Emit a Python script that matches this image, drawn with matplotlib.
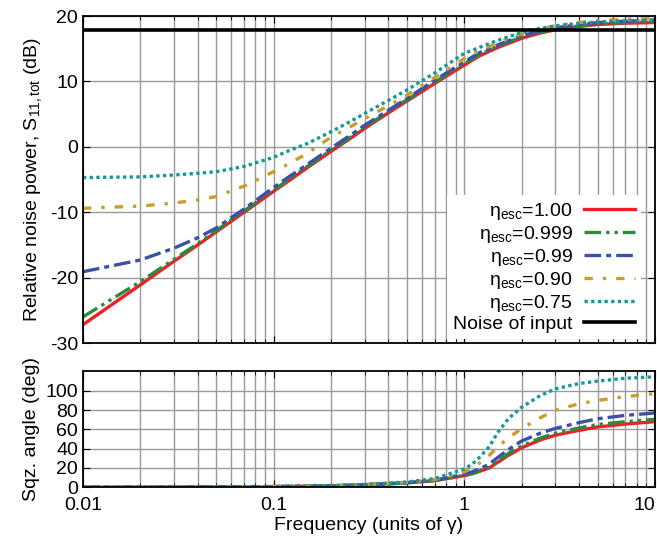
import matplotlib
matplotlib.use("Agg")
import matplotlib.pyplot as plt
from matplotlib.ticker import FixedLocator, LogLocator, NullFormatter

plt.rcParams['font.family'] = ['Liberation Sans', 'DejaVu Sans']
plt.rcParams['mathtext.fontset'] = 'custom'
plt.rcParams['mathtext.rm'] = 'Liberation Sans'
plt.rcParams['mathtext.it'] = 'Liberation Sans:italic'
plt.rcParams['axes.unicode_minus'] = False

# frequency points for the noise power panel (units of gamma)
freq_noise = [0.01, 0.02, 0.03, 0.04, 0.05, 0.07, 0.1, 0.12, 0.15, 0.2, 0.25, 0.3,
              0.4, 0.5, 0.7, 1, 1.2, 1.5, 2, 2.5, 3, 4, 5, 7, 10]
noise_100 = [-27.2, -21.1, -17.5, -15.0, -13.0, -10.0, -6.8, -5.2, -3.2, -0.7, 1.2, 2.8,
             5.2, 7.0, 9.7, 12.5, 13.9, 15.2, 16.6, 17.4, 17.9, 18.4, 18.7, 18.9, 19.0]
noise_0999 = [-26.0, -20.6, -17.2, -14.8, -12.8, -9.8, -6.6, -5.0, -3.0, -0.5, 1.4, 3.0,
              5.4, 7.2, 9.9, 12.7, 14.1, 15.4, 16.8, 17.5, 18.0, 18.5, 18.8, 19.0, 19.2]
noise_099 = [-19.1, -17.3, -15.5, -13.9, -12.4, -9.5, -6.2, -4.6, -2.7, -0.2, 1.7, 3.3,
             5.6, 7.4, 10.2, 13.0, 14.4, 15.6, 17.0, 17.7, 18.2, 18.7, 19.0, 19.2, 19.4]
noise_090 = [-9.4, -9.05, -8.6, -8.1, -7.6, -6.0, -3.8, -2.6, -1.0, 1.5, 3.0, 4.3,
             6.3, 7.9, 10.6, 13.5, 14.7, 15.9, 17.3, 18.0, 18.5, 19.0, 19.3, 19.5, 19.6]
noise_075 = [-4.7, -4.6, -4.3, -4.05, -3.8, -3.0, -1.6, -0.6, 0.5, 2.3, 3.8, 5.1,
             7.1, 8.7, 11.3, 14.3, 15.2, 16.3, 17.5, 18.1, 18.5, 18.9, 19.1, 19.3, 19.4]
noise_input = 17.9

# frequency points for the squeezing angle panel
freq_angle = [0.01, 0.03, 0.1, 0.2, 0.3, 0.5, 0.7, 1, 1.1, 1.2, 1.35, 1.5, 1.7,
              2, 2.5, 3, 4, 5, 7, 10]
angle_100 = [0, 0.1, 0.7, 1.5, 2.5, 4.5, 7, 12, 14, 16.5, 20, 26, 33,
             41, 49, 54, 59, 62.5, 65.5, 68]
angle_0999 = [0, 0.1, 0.7, 1.5, 2.5, 4.5, 7, 12.3, 14.5, 17, 21, 27, 35,
              43, 51, 56, 61.5, 65, 68, 70.5]
angle_099 = [0, 0.1, 0.7, 1.5, 2.6, 4.7, 7.3, 13.5, 16, 19, 24, 31, 39,
             48, 56, 61, 67, 71, 74.5, 77]
angle_090 = [0, 0.1, 0.7, 1.6, 2.8, 5, 8, 16, 20, 25, 33, 42, 51,
             61, 72, 80, 86.5, 90, 94, 97]
angle_075 = [0, 0.1, 0.7, 1.7, 3, 5.5, 9, 19, 24, 31, 42, 57, 71,
             83, 95, 102, 107.5, 110, 113, 114.5]

labels = ['η$_{\\mathrm{esc}}$=1.00', 'η$_{\\mathrm{esc}}$=0.999', 'η$_{\\mathrm{esc}}$=0.99',
          'η$_{\\mathrm{esc}}$=0.90', 'η$_{\\mathrm{esc}}$=0.75']
colors = ['#ee1f26', '#2b8a3e', '#3a52a6', '#c99d2e', '#13999a']
dashes = [None, (5, 1.5, 1, 1.5, 1, 1.5), (5, 1.5, 1.5, 1.5), (2.5, 3, 1, 3), (1, 1)]

noise = [noise_100, noise_0999, noise_099, noise_090, noise_075]
angle = [angle_100, angle_0999, angle_099, angle_090, angle_075]

fs = 14

fig = plt.figure(figsize=(6.57, 5.45), dpi=100)
ax1 = fig.add_axes([0.1263, 0.3706, 0.8707, 0.6000])
ax2 = fig.add_axes([0.1263, 0.1059, 0.8707, 0.2125])

for i in range(5):
    kw = dict(color=colors[i], lw=2.4, label=labels[i])
    if dashes[i] is not None:
        kw['dashes'] = dashes[i]
    ax1.plot(freq_noise, noise[i], **kw)
    kw.pop('label')
    ax2.plot(freq_angle, angle[i], **kw)
ax1.axhline(noise_input, color='black', lw=2.6, label='Noise of input')

for ax in (ax1, ax2):
    ax.set_xscale('log')
    ax.set_xlim(0.01, 10)
    ax.xaxis.set_major_locator(FixedLocator([0.01, 0.1, 1, 10]))
    ax.xaxis.set_minor_locator(LogLocator(base=10, subs=range(2, 10)))
    ax.xaxis.set_minor_formatter(NullFormatter())
    ax.grid(True, which='major', color='#9a9a9a', lw=1)
    ax.grid(True, which='minor', axis='x', color='#9a9a9a', lw=1)
    ax.tick_params(which='both', direction='in', top=True, right=True, labelsize=fs)
    ax.tick_params(which='major', length=5)
    ax.tick_params(which='minor', length=3)
    for s in ax.spines.values():
        s.set_linewidth(1.3)

ax1.set_ylim(-30, 20)
ax1.set_yticks([-30, -20, -10, 0, 10, 20])
ax1.set_xticklabels([])
ax1.set_ylabel('Relative noise power, S$_{\\mathrm{11,tot}}$ (dB)', fontsize=fs)

ax2.set_ylim(0, 120)
ax2.set_yticks([0, 20, 40, 60, 80, 100])
ax2.set_xticklabels(['0.01', '0.1', '1', '10'])
ax2.tick_params(axis='x', which='major', pad=7)
ax2.get_xticklabels()[-1].set_horizontalalignment('right')
ax2.set_xlabel('Frequency (units of γ)', fontsize=fs, labelpad=2)
ax2.set_ylabel('Sqz. angle (deg)', fontsize=fs)

fig.align_ylabels([ax1, ax2])

leg = ax1.legend(loc='lower right', bbox_to_anchor=(0.975, 0.012), markerfirst=False,
                 fontsize=fs, frameon=True, fancybox=False, edgecolor='none',
                 facecolor='white', framealpha=1, handlelength=2.6, handletextpad=0.6,
                 labelspacing=0.1, borderaxespad=0, borderpad=0.3)
for t in leg.get_texts():
    t.set_horizontalalignment('right')

fig.savefig('out.png', dpi=100)
